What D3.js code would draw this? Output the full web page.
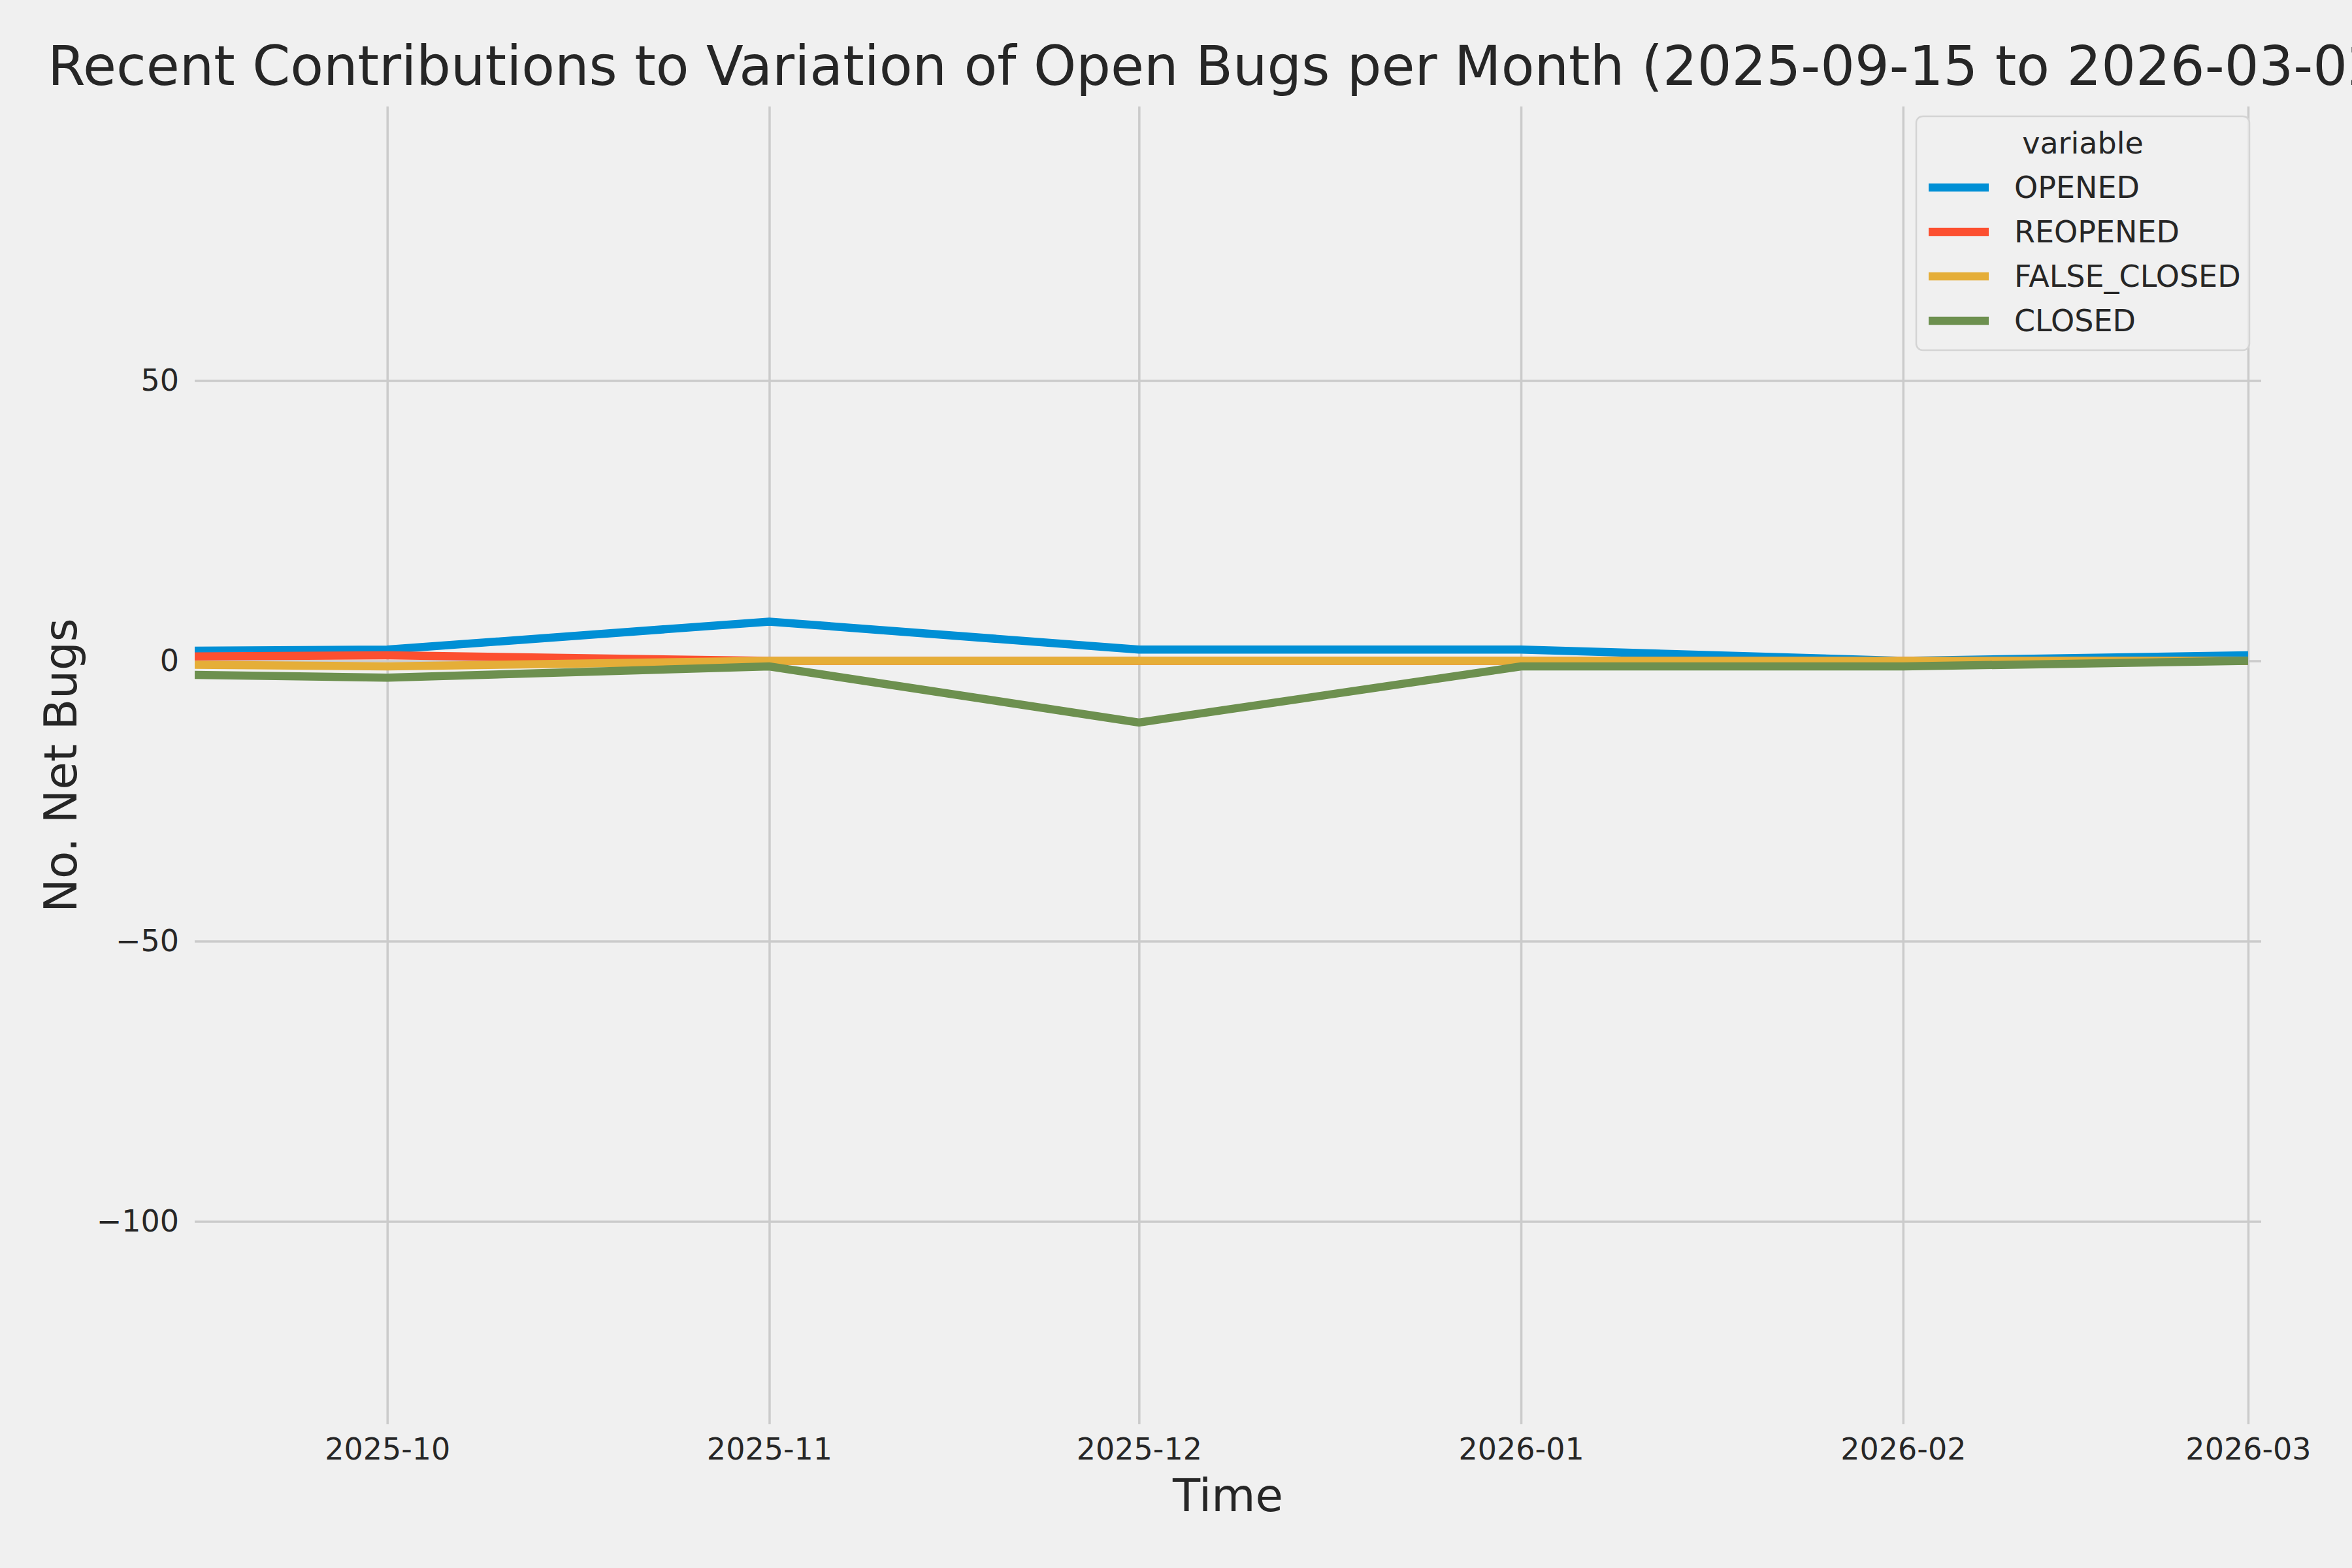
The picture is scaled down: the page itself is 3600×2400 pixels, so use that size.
<!DOCTYPE html>
<html>
<head>
<meta charset="utf-8">
<script src="https://cdn.jsdelivr.net/npm/d3@7"></script>
<style>
  body { margin: 0; background: #f0f0f0; }
  text { font-family: "DejaVu Sans", sans-serif; fill: #262626; }
</style>
</head>
<body>
<div id="chart"></div>
<script>
// data
// (note: "closed" is taken by window.closed, so the arrays get a suffix)
var dates = ["2025-09-15T09:00", "2025-10-01", "2025-11-01", "2025-12-01", "2026-01-01", "2026-02-01", "2026-03-01"];
var openedBugs = [1.8, 2, 7, 2, 2, 0, 1];
var reopenedBugs = [0.8, 1, 0, 0, 0, 0, 0];
var falseClosedBugs = [-0.7, -1, 0, 0, 0, 0, 0];
var closedBugs = [-2.5, -3, -1, -11, -1, -1, 0];
var seriesNames = ["OPENED", "REOPENED", "FALSE_CLOSED", "CLOSED"];
var yTicks = [50, 0, -50, -100];
var xStart = "2025-09-15T09:00", xEnd = "2026-03-02T01:30";
var yMin = -136.2, yMax = 98.9;

var colors = ["#008fd5", "#fc4f30", "#e5ae38", "#6d904f"];
var parseDate = d3.isoParse;

var series = [openedBugs, reopenedBugs, falseClosedBugs, closedBugs].map(function(vals, i){
  return {
    name: seriesNames[i],
    color: colors[i],
    values: vals.map(function(v, j){ return { time: parseDate(dates[j]), value: v }; })
  };
});

var W = 3600, H = 2400;
var margin = { top: 163, right: 3600 - 3461, bottom: 2400 - 2180, left: 298 };
var width = W - margin.left - margin.right,
    height = H - margin.top - margin.bottom;

var svg = d3.select("#chart").append("svg")
  .attr("width", W)
  .attr("height", H)
  .style("display", "block");

svg.append("rect").attr("width", W).attr("height", H).attr("fill", "#f0f0f0");

var g = svg.append("g")
  .attr("transform", "translate(" + margin.left + "," + margin.top + ")");

var xScale = d3.scaleTime()
  .domain([parseDate(xStart), parseDate(xEnd)])
  .range([0, width]);
var yScale = d3.scaleLinear()
  .domain([yMin, yMax])
  .range([height, 0]);

g.append("clipPath").attr("id", "clip")
  .append("rect").attr("width", width).attr("height", height);

// grid
var xAxis = d3.axisBottom(xScale)
  .ticks(d3.timeMonth.every(1))
  .tickFormat(d3.timeFormat("%Y-%m"))
  .tickSize(-height)
  .tickPadding(20);
var yAxis = d3.axisLeft(yScale)
  .tickValues(yTicks)
  .tickFormat(function(d){ return d < 0 ? "\u2212" + Math.abs(d) : d; })
  .tickSize(-width)
  .tickPadding(24);

var gx = g.append("g")
  .attr("transform", "translate(0," + height + ")")
  .call(xAxis);
var gy = g.append("g").call(yAxis);

[gx, gy].forEach(function(a){
  a.select(".domain").remove();
  a.selectAll(".tick line").attr("stroke", "#cbcbcb").attr("stroke-width", 3.5);
  a.selectAll(".tick text")
    .attr("font-size", 46)
    .attr("font-family", "DejaVu Sans")
    .attr("fill", "#262626");
});
gx.selectAll(".tick text").attr("dy", "0.71em").attr("y", 21);

// lines
var line = d3.line()
  .x(function(d){ return xScale(d.time); })
  .y(function(d){ return yScale(d.value); });

g.append("g").attr("clip-path", "url(#clip)")
  .selectAll("path")
  .data(series)
  .enter()
  .append("path")
  .attr("d", function(d){ return line(d.values); })
  .attr("fill", "none")
  .attr("stroke", function(d){ return d.color; })
  .attr("stroke-width", 12.5)
  .attr("stroke-linejoin", "miter")
  .attr("stroke-linecap", "butt");

// title (runs off the right edge, as in the original) and axis labels
svg.append("text")
  .attr("x", 73)
  .attr("y", 130)
  .attr("font-size", 83)
  .text("Recent Contributions to Variation of Open Bugs per Month (2025-09-15 to 2026-03-02)");

svg.append("text")
  .attr("x", margin.left + width / 2)
  .attr("y", 2313)
  .attr("text-anchor", "middle")
  .attr("font-size", 69)
  .text("Time");

svg.append("text")
  .attr("transform", "translate(117," + (margin.top + height / 2) + ") rotate(-90)")
  .attr("text-anchor", "middle")
  .attr("font-size", 69)
  .text("No. Net Bugs");

// legend
var legend = svg.append("g").attr("transform", "translate(2933,178)");
legend.append("rect")
  .attr("width", 510)
  .attr("height", 358)
  .attr("rx", 10)
  .attr("fill", "#f0f0f0")
  .attr("fill-opacity", 0.8)
  .attr("stroke", "#d4d4d4")
  .attr("stroke-width", 2.5);
legend.append("text")
  .attr("x", 255)
  .attr("y", 57)
  .attr("text-anchor", "middle")
  .attr("font-size", 46)
  .text("variable");

var items = legend.selectAll(".item")
  .data(series)
  .enter()
  .append("g")
  .attr("class", "item")
  .attr("transform", function(d, i){ return "translate(0," + (109 + i * 68) + ")"; });
items.append("line")
  .attr("x1", 19).attr("x2", 111)
  .attr("stroke", function(d){ return d.color; })
  .attr("stroke-width", 12.5);
items.append("text")
  .attr("x", 150)
  .attr("y", 16)
  .attr("font-size", 46)
  .text(function(d){ return d.name; });
</script>
</body>
</html>
